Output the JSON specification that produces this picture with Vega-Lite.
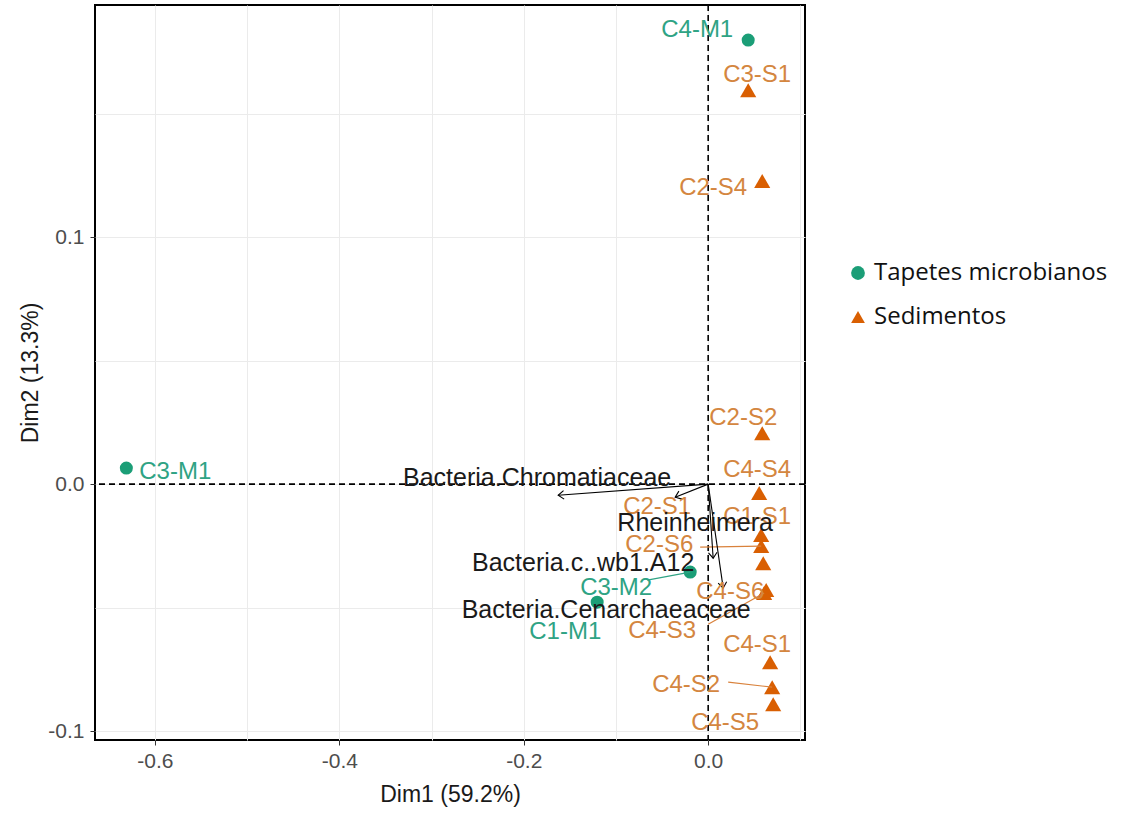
{
  "$schema": "https://vega.github.io/schema/vega-lite/v6.json",
  "autosize": {"type": "none"},
  "width": 710,
  "height": 735,
  "padding": {"left": 95, "top": 5, "right": 321, "bottom": 74},
  "background": "white",
  "config": {
    "view": {"stroke": "black", "strokeWidth": 2},
    "font": "Liberation Sans",
    "axis": {
      "labelFont": "Liberation Sans",
      "titleFont": "Liberation Sans",
      "labelColor": "#4D4D4D",
      "titleColor": "#1a1a1a",
      "labelFontSize": 21,
      "titleFontSize": 23,
      "titleFontWeight": "normal",
      "tickColor": "#333333",
      "tickSize": 5,
      "gridColor": "#EBEBEB",
      "gridWidth": 1,
      "domain": false
    }
  },
  "datasets": {
    "samples": [
      {"name": "C4-M1", "group": "Tapetes microbianos", "x": 0.0434, "y": 0.1798, "lx": -0.0119, "ly": 0.1838},
      {"name": "C3-M1", "group": "Tapetes microbianos", "x": -0.631, "y": 0.0065, "lx": -0.578, "ly": 0.0049},
      {"name": "C3-M2", "group": "Tapetes microbianos", "x": -0.0195, "y": -0.0356, "lx": -0.0998, "ly": -0.0421, "sx": -0.066, "sy": -0.0389},
      {"name": "C1-M1", "group": "Tapetes microbianos", "x": -0.1204, "y": -0.0478, "lx": -0.155, "ly": -0.0599},
      {"name": "C3-S1", "group": "Sedimentos", "x": 0.0434, "y": 0.1595, "lx": 0.0531, "ly": 0.1656},
      {"name": "C2-S4", "group": "Sedimentos", "x": 0.0586, "y": 0.1227, "lx": 0.0054, "ly": 0.1198},
      {"name": "C2-S2", "group": "Sedimentos", "x": 0.0586, "y": 0.0206, "lx": 0.038, "ly": 0.0267},
      {"name": "C4-S4", "group": "Sedimentos", "x": 0.0553, "y": -0.0036, "lx": 0.0531, "ly": 0.0057},
      {"name": "C1-S1", "group": "Sedimentos", "x": 0.0575, "y": -0.0206, "lx": 0.0531, "ly": -0.0134},
      {"name": "C2-S6", "group": "Sedimentos", "x": 0.0575, "y": -0.0251, "lx": -0.0531, "ly": -0.0247, "sx": -0.0087, "sy": -0.0255},
      {"name": "C2-S1", "group": "Sedimentos", "x": 0.0597, "y": -0.032, "lx": -0.0553, "ly": -0.0093},
      {"name": "C4-S6", "group": "Sedimentos", "x": 0.0629, "y": -0.0429, "lx": 0.0239, "ly": -0.0437},
      {"name": "C4-S3", "group": "Sedimentos", "x": 0.0607, "y": -0.0441, "lx": -0.0499, "ly": -0.0595, "sx": 0.0, "sy": -0.0567},
      {"name": "C4-S1", "group": "Sedimentos", "x": 0.0672, "y": -0.0721, "lx": 0.0531, "ly": -0.0652},
      {"name": "C4-S2", "group": "Sedimentos", "x": 0.0694, "y": -0.0822, "lx": -0.0239, "ly": -0.0814, "sx": 0.0217, "sy": -0.0802},
      {"name": "C4-S5", "group": "Sedimentos", "x": 0.0705, "y": -0.0891, "lx": 0.0184, "ly": -0.0968}
    ],
    "vars": [
      {"name": "Bacteria.Chromatiaceae", "ax": -0.1627, "ay": -0.0045, "lx": -0.1855, "ly": 0.0024},
      {"name": "Rheinheimera", "ax": -0.0358, "ay": -0.0053, "lx": -0.0141, "ly": -0.0158},
      {"name": "Bacteria.c..wb1.A12", "ax": 0.0054, "ay": -0.03, "lx": -0.1356, "ly": -0.032},
      {"name": "Bacteria.Cenarchaeaceae", "ax": 0.0163, "ay": -0.0421, "lx": -0.1106, "ly": -0.051}
    ],
    "origin": [{"x0": 0, "y0": 0}]
  },
  "layer": [
    {
      "data": {"name": "samples"},
      "mark": {"type": "point", "filled": true, "opacity": 1},
      "encoding": {
        "x": {
          "field": "x", "type": "quantitative",
          "scale": {"domain": [-0.665, 0.105], "nice": false, "zero": false},
          "axis": {
            "title": "Dim1 (59.2%)",
            "values": [-0.6, -0.5, -0.4, -0.3, -0.2, -0.1, 0, 0.1],
            "labelExpr": "round(datum.value*10) % 2 === 0 ? replace(format(datum.value, '.1f'), '\u2212', '-') : ''",
            "tickOpacity": {"condition": {"test": "round(datum.value*10) % 2 === 0", "value": 1}, "value": 0},
            "labelPadding": 5,
            "titlePadding": 12
          }
        },
        "y": {
          "field": "y", "type": "quantitative",
          "scale": {"domain": [-0.1036, 0.194], "nice": false, "zero": false},
          "axis": {
            "title": "Dim2 (13.3%)",
            "values": [-0.1, -0.05, 0, 0.05, 0.1, 0.15],
            "labelExpr": "round(datum.value*20) % 2 === 0 ? replace(format(datum.value, '.1f'), '\u2212', '-') : ''",
            "tickOpacity": {"condition": {"test": "round(datum.value*20) % 2 === 0", "value": 1}, "value": 0},
            "labelPadding": 6,
            "titlePadding": 5
          }
        },
        "size": {"condition": {"test": "datum.group === 'Sedimentos'", "value": 260}, "value": 170},
        "color": {
          "field": "group", "type": "nominal",
          "scale": {"domain": ["Tapetes microbianos", "Sedimentos"], "range": ["#1B9E77", "#D95F02"]},
          "legend": {
            "title": null,
            "orient": "none",
            "legendX": 751,
            "legendY": 256,
            "labelFont": "Open Sans",
            "labelFontSize": 24,
            "labelLimit": 400,
            "labelColor": "#111111",
            "symbolSize": 190,
            "labelOffset": 4,
            "rowPadding": 20,
            "padding": 0
          }
        },
        "shape": {
          "field": "group", "type": "nominal",
          "scale": {"domain": ["Tapetes microbianos", "Sedimentos"], "range": ["circle", "triangle-up"]}
        }
      }
    },
    {
      "data": {"name": "origin"},
      "mark": {"type": "rule", "strokeDash": [6, 4], "strokeWidth": 1.6, "color": "black"},
      "encoding": {"x": {"field": "x0", "type": "quantitative"}}
    },
    {
      "data": {"name": "origin"},
      "mark": {"type": "rule", "strokeDash": [6, 4], "strokeWidth": 1.6, "color": "black"},
      "encoding": {"y": {"field": "y0", "type": "quantitative"}}
    },
    {
      "data": {"name": "samples"},
      "transform": [{"filter": "isValid(datum.sx)"}],
      "mark": {"type": "rule", "strokeWidth": 1.2},
      "encoding": {
        "x": {"field": "sx", "type": "quantitative"},
        "y": {"field": "sy", "type": "quantitative"},
        "x2": {"field": "x"},
        "y2": {"field": "y"},
        "color": {"condition": {"test": "datum.group === 'Sedimentos'", "value": "#D9823C"}, "value": "#2FA384"}
      }
    },
    {
      "data": {"name": "vars"},
      "transform": [{"calculate": "0", "as": "zero"}],
      "mark": {"type": "rule", "strokeWidth": 1.1, "color": "black"},
      "encoding": {
        "x": {"field": "ax", "type": "quantitative"},
        "y": {"field": "ay", "type": "quantitative"},
        "x2": {"field": "zero"},
        "y2": {"field": "zero"}
      }
    },
    {
      "data": {"name": "vars"},
      "transform": [{"calculate": "atan2(-datum.ay*2470, datum.ax*922)*180/PI", "as": "ang"}],
      "mark": {"type": "point", "shape": "M-1,-0.75L0,0L-1,0.75", "filled": false, "stroke": "black", "strokeWidth": 1.1, "size": 130, "opacity": 1},
      "encoding": {
        "x": {"field": "ax", "type": "quantitative"},
        "y": {"field": "ay", "type": "quantitative"},
        "angle": {"field": "ang", "type": "quantitative", "scale": null}
      }
    },
    {
      "data": {"name": "samples"},
      "mark": {"type": "text", "fontSize": 24, "font": "Liberation Sans", "baseline": "middle", "align": "center"},
      "encoding": {
        "x": {"field": "lx", "type": "quantitative"},
        "y": {"field": "ly", "type": "quantitative"},
        "text": {"field": "name"},
        "color": {"condition": {"test": "datum.group === 'Sedimentos'", "value": "#D48640"}, "value": "#2FA384"}
      }
    },
    {
      "data": {"name": "vars"},
      "mark": {"type": "text", "fontSize": 25, "font": "Liberation Sans", "baseline": "middle", "align": "center", "color": "#1a1a1a"},
      "encoding": {
        "x": {"field": "lx", "type": "quantitative"},
        "y": {"field": "ly", "type": "quantitative"},
        "text": {"field": "name"}
      }
    }
  ]
}
